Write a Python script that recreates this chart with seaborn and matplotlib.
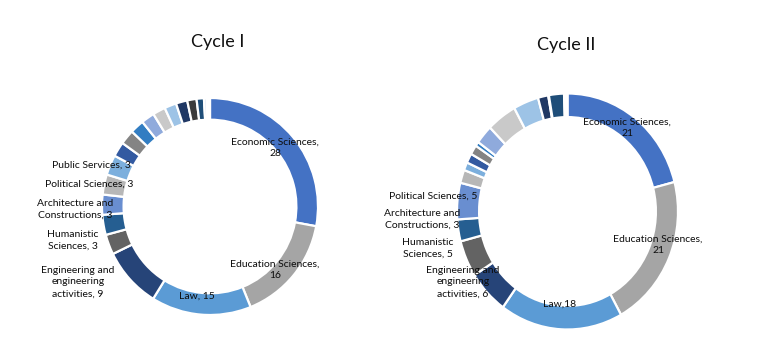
import matplotlib
matplotlib.use("Agg")
import matplotlib.pyplot as plt
import seaborn as sns

# 21 categories, same order in both cycles (only some are labelled)
categories = ["Economic Sciences", "Education Sciences", "Law",
              "Engineering and engineering activities", "Humanistic Sciences",
              "Architecture and Constructions", "Political Sciences", "Public Services",
              "c9", "c10", "c11", "c12", "c13", "c14", "c15", "c16", "c17", "c18",
              "c19", "c20", "c21"]

cycle1 = [28, 16, 15, 9, 3, 3, 3, 3, 3,
          2.2, 2.2, 2.1, 2.0, 1.9, 1.8, 1.7, 1.4, 1.1, 0.4, 0.3, 0.2]
cycle2 = [21, 21, 18, 6, 5, 3, 5, 1.8, 1.1,
          1.3, 1.3, 0.6, 2.6, 4.4, 3.7, 1.5, 0.1, 2.2, 0.3, 0.1, 0.1]

colors = ["#4472C4", "#A5A5A5", "#5B9BD5", "#264478", "#636363", "#255E91",
          "#698ED0", "#B7B7B7", "#7CAFDD", "#335AA1", "#848484", "#327DC2",
          "#8FAADC", "#C9C9C9", "#9DC3E6", "#203864", "#3B3B3B", "#1F4E79",
          "#B4C7E7", "#DBDBDB", "#BDD7EE"]

labels1 = ["Economic Sciences,\n28", "Education Sciences,\n16", "Law, 15",
           "Engineering and\nengineering\nactivities, 9", "Humanistic\nSciences, 3",
           "Architecture and\nConstructions, 3", "Political Sciences, 3",
           "Public Services, 3"]
labels2 = ["Economic Sciences,\n21", "Education Sciences,\n21", "Law,18",
           "Engineering and\nengineering\nactivities, 6", "Humanistic\nSciences, 5",
           "Architecture and\nConstructions, 3", "Political Sciences, 5"]

# label anchor points in pixels (x, y from top)
pos1 = [(275, 148), (275, 270), (197, 296), (78, 282), (73, 240),
        (75, 209), (89, 184), (91, 165)]
pos2 = [(627, 128), (658, 245), (560, 304), (463, 282), (428, 248),
        (422, 219), (433, 196)]

sns.set_theme(style="white")
plt.rcParams["font.family"] = ["Lato", "DejaVu Sans"]

W, H = 764, 351
fig = plt.figure(figsize=(W / 100, H / 100), dpi=100)
fig.patch.set_facecolor("white")


def donut(cx, cy, rx, ry, values, title, tx, ty):
    ax = fig.add_axes([(cx - rx) / W, (H - cy - ry) / H, 2 * rx / W, 2 * ry / H])
    ax.pie(values, colors=sns.color_palette(colors), startangle=90, counterclock=False,
           wedgeprops=dict(width=0.2, edgecolor="white", linewidth=1.6))
    ax.set_aspect("auto")
    ax.set_xlim(-1, 1)
    ax.set_ylim(-1, 1)
    ax.axis("off")
    fig.text(tx / W, 1 - ty / H, title, ha="center", va="center", fontsize=13, color="#111111")


donut(210, 206.5, 108, 108.5, cycle1, "Cycle I", 218, 42)
donut(567.5, 211.5, 110.5, 118, cycle2, "Cycle II", 566, 45)

for lab, (x, y) in zip(labels1 + labels2, pos1 + pos2):
    fig.text(x / W, 1 - y / H, lab, ha="center", va="center", fontsize=7.5,
             color="#0d0d0d", linespacing=1.4)

fig.savefig("out.png", dpi=100, facecolor="white")
